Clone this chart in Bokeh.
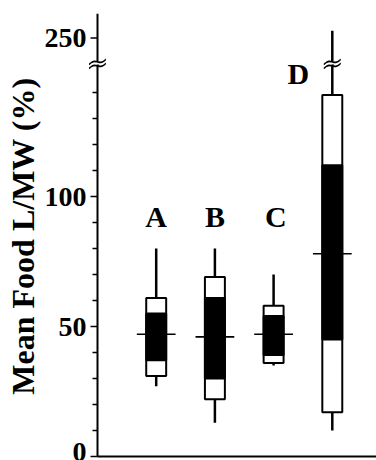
import math
from bokeh.plotting import figure
from bokeh.models import Range1d, FixedTicker, PolyAnnotation, ColumnDataSource, Title
from bokeh.core.properties import value
from bokeh.embed import file_html
from bokeh.resources import INLINE

# ---- data ----
groups = ["A", "B", "C", "D"]
whisker_low = [27, 13, 35, 10]
box_low = [31, 22, 36, 17]
core_low = [37, 30, 39, 45]
mean_val = [47, 46, 47, 78]
core_high = [55, 61, 54, 112]
box_high = [61, 69, 58, 139]
whisker_high = [80, 80, 70, 275]
major_ticks = [0, 50, 100, 250]
minor_ticks = [10, 20, 30, 40, 60, 70, 80, 90, 110, 120, 130, 140]
y_title = "Mean Food L/MW (%)"

# ---- broken axis mapping ----
BREAK = 150
K = 0.11


def brk(v):
    return v if v <= BREAK else BREAK + (v - BREAK) * K


W, H = 376, 460
AXIS_X = 97          # page x of the drawn y-axis line
FRAME_LEFT = 88      # frame starts a little left of the axis line
TOP, BOTTOM = 13, 2
PX_PER_Y = 2.6
PX_PER_X = 58.7
ZERO_Y = 456         # page y of value 0
Y_START = -(H - BOTTOM - ZERO_Y) / PX_PER_Y
Y_END = (ZERO_Y - TOP) / PX_PER_Y
X_START = -(AXIS_X - FRAME_LEFT) / PX_PER_X
X_END = (W - AXIS_X) / PX_PER_X
ux = 1.0 / PX_PER_X
uy = 1.0 / PX_PER_Y

p = figure(width=W, height=H, output_backend="svg", toolbar_location=None,
           x_range=Range1d(X_START, X_END), y_range=Range1d(Y_START, Y_END),
           x_axis_type=None, min_border_left=FRAME_LEFT, min_border_top=TOP,
           min_border_bottom=BOTTOM, min_border_right=0)
p.grid.visible = False
p.outline_line_color = None
p.background_fill_color = "white"
p.border_fill_color = "white"

# ---- axes drawn as lines ----
p.segment(x0=[0], y0=[0], x1=[0], y1=[Y_END], line_color="black", line_width=2)
p.segment(x0=[0], y0=[0], x1=[X_END], y1=[0], line_color="black", line_width=2)
maj_y = [brk(v) for v in major_ticks]
p.segment(x0=[-7 * ux] * len(maj_y), y0=maj_y, x1=[0] * len(maj_y), y1=maj_y,
          line_color="black", line_width=1.5)
p.segment(x0=[-5 * ux] * len(minor_ticks), y0=minor_ticks, x1=[0] * len(minor_ticks),
          y1=minor_ticks, line_color="black", line_width=1.5)

# ---- boxes ----
xs = [i + 1 for i in range(len(groups))]
src = ColumnDataSource(dict(
    x=xs,
    wl=[brk(v) for v in whisker_low], bl=[brk(v) for v in box_low],
    cl=[brk(v) for v in core_low], m=[brk(v) for v in mean_val],
    ch=[brk(v) for v in core_high], bh=[brk(v) for v in box_high],
    wh=[brk(v) for v in whisker_high],
    left=[x - 0.17 for x in xs], right=[x + 0.17 for x in xs],
    mleft=[x - 0.33 for x in xs], mright=[x + 0.33 for x in xs],
))

p.segment(x0="x", y0="wl", x1="x", y1="wh", source=src, line_color="black", line_width=2.5)
p.quad(left="left", right="right", bottom="bl", top="bh", source=src,
       fill_color="white", line_color="black", line_width=2)
p.quad(left="left", right="right", bottom="cl", top="ch", source=src,
       fill_color="black", line_color="black", line_width=2)
p.segment(x0="mleft", y0="m", x1="mright", y1="m", source=src, line_color="black", line_width=1.6)

# group letters
lab_x = [xs[0], xs[1], xs[2] + 0.04, xs[3] - 0.58]
lab_y = [92.5, 92.5, 92.5, brk(BREAK) - 2.5]
p.text(x=lab_x, y=lab_y, text=groups, text_font=value("Liberation Serif"),
       text_font_style="bold", text_font_size="30px", text_align="center",
       text_baseline="middle", text_color="black")

# ---- y axis: labels only (line and ticks drawn above) ----
ax = p.yaxis[0]
ax.ticker = FixedTicker(ticks=maj_y, minor_ticks=[])
ax.major_label_overrides = {brk(v): str(v) for v in major_ticks}
ax.major_label_text_font = "Liberation Serif"
ax.major_label_text_font_style = "bold"
ax.major_label_text_font_size = "28px"
ax.major_label_text_color = "black"
ax.major_label_standoff = 2
ax.axis_line_color = None
ax.major_tick_line_color = None
ax.minor_tick_line_color = None
ax.major_tick_in = 0
ax.major_tick_out = 0
ax.minor_tick_in = 0
ax.minor_tick_out = 0

p.add_layout(Title(text=y_title, align="center", text_font="Liberation Serif",
                   text_font_style="bold", text_font_size="32px", text_color="black",
                   standoff=2), "left")


# break marks (pair of slanted tildes with a gap)
def break_mark(xc, yc, half_w_px=8.5, gap_px=4.0):
    p.add_layout(PolyAnnotation(
        xs=[xc - 3 * ux, xc + 3 * ux, xc + 3 * ux, xc - 3 * ux],
        ys=[yc - (gap_px / 2 - 0.5) * uy, yc - (gap_px / 2 - 0.5) * uy + 2 * uy,
            yc + (gap_px / 2 - 0.5) * uy + 2 * uy, yc + (gap_px / 2 - 0.5) * uy],
        fill_color="white", fill_alpha=1, line_color=None))
    for off in (-gap_px / 2, gap_px / 2):
        top, bot = [], []
        n = 20
        for i in range(n + 1):
            t = i / n
            dx = (t - 0.5) * 2 * half_w_px
            dy = off + 0.3 * dx + 1.5 * math.sin(2 * math.pi * t)
            top.append((xc + dx * ux, yc + (dy + 0.9) * uy))
            bot.append((xc + dx * ux, yc + (dy - 0.9) * uy))
        pts = top + bot[::-1]
        p.add_layout(PolyAnnotation(xs=[q[0] for q in pts], ys=[q[1] for q in pts],
                                    fill_color="black", fill_alpha=1, line_color=None))


BREAK_MARK_Y = brk(BREAK) + 1.0
break_mark(0, BREAK_MARK_Y)
break_mark(xs[3], BREAK_MARK_Y)

open("out.html", "w").write(file_html(p, INLINE))
